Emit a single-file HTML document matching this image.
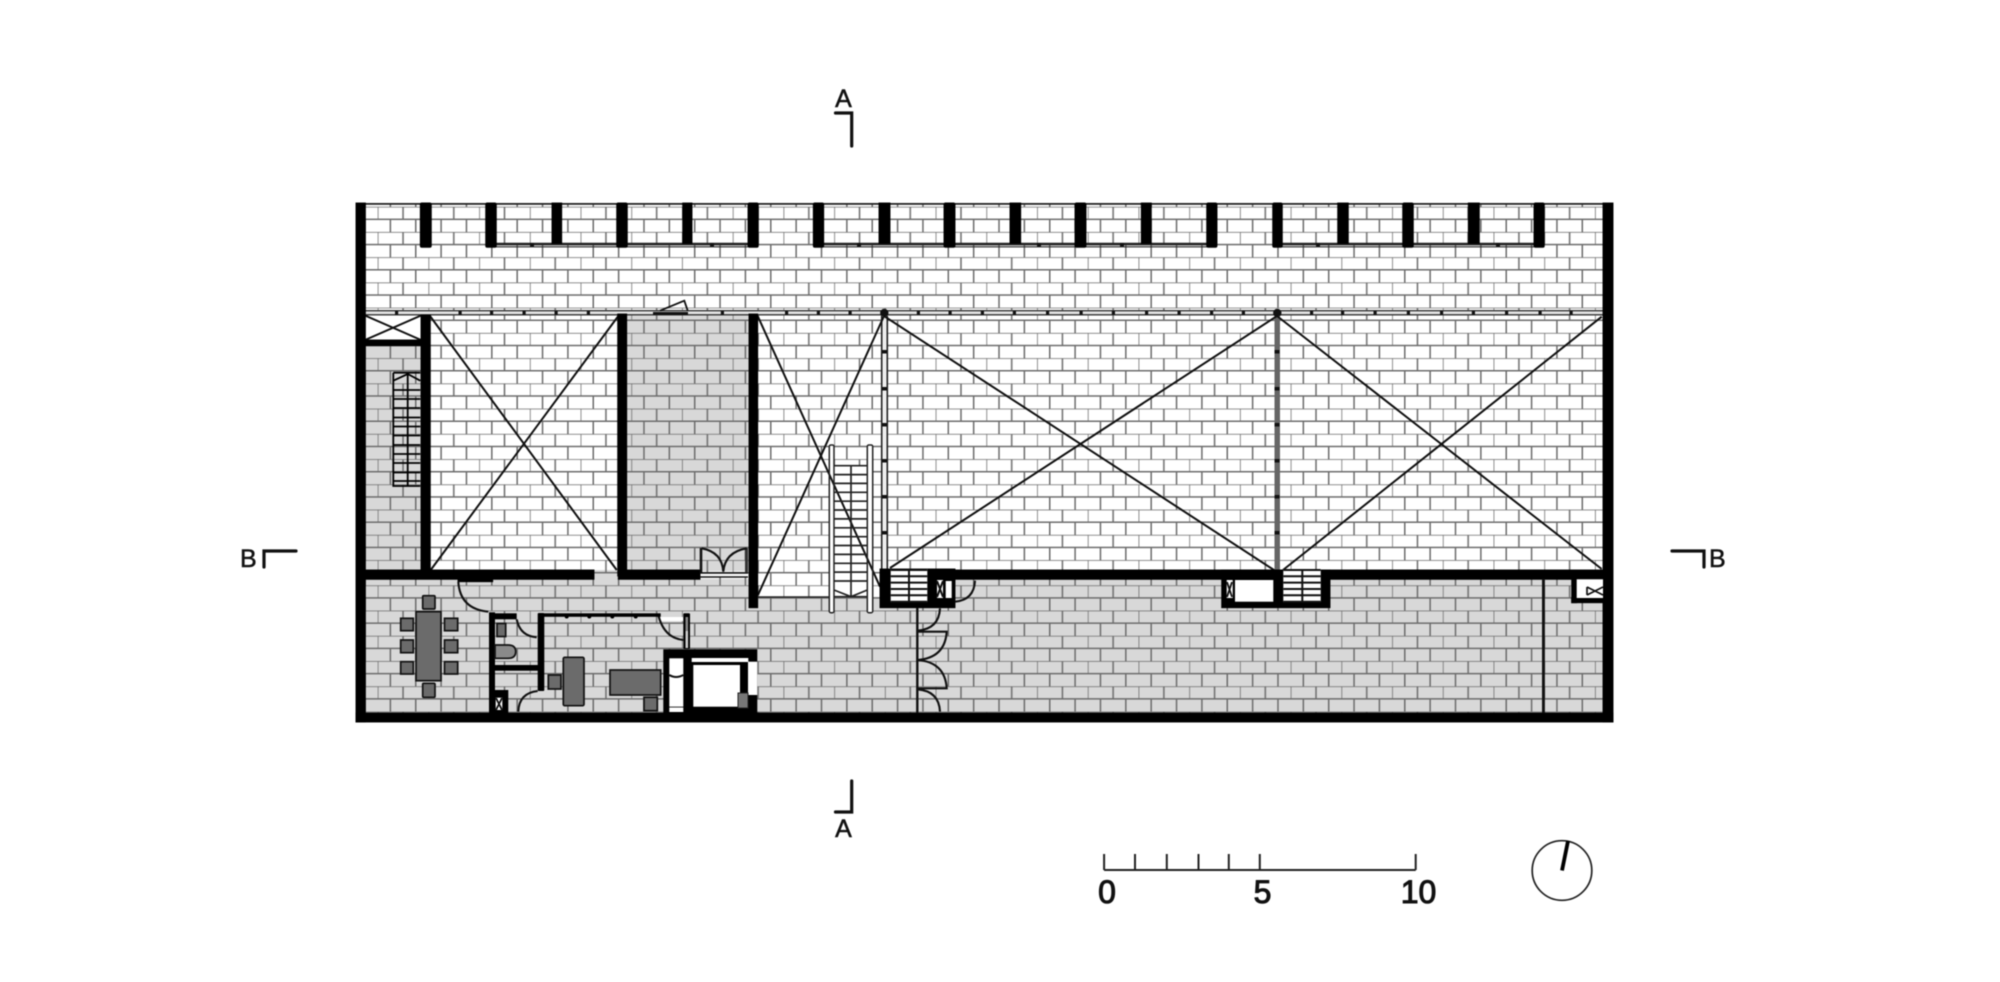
<!DOCTYPE html>
<html><head><meta charset="utf-8"><title>Floor plan</title>
<style>
html,body{margin:0;padding:0;background:#fff;width:2000px;height:982px;overflow:hidden}
svg{display:block;filter:blur(.45px)}
text{font-family:"Liberation Sans",sans-serif;fill:#111}
</style></head><body>
<svg width="2000" height="982" viewBox="0 0 2000 982" xmlns="http://www.w3.org/2000/svg">
<defs>
<pattern id="b" patternUnits="userSpaceOnUse" x="377.7" y="206.7" width="50.72" height="25.24">
<path d="M0 0H50.72M0 12.62H50.72M0 0V12.62M25.36 0V12.62M12.68 12.62V25.24M38.04 12.62V25.24" fill="none" stroke="#6c6c6c" stroke-width="1.5"/>
</pattern>
</defs>
<rect width="2000" height="982" fill="#fff"/>
<!-- grey floors -->
<g fill="#d8d8d8">
<rect x="365" y="346" width="56" height="224"/>
<rect x="627" y="315" width="122" height="256"/>
<rect x="365" y="579" width="1238" height="134"/>
<rect x="594" y="570" width="24" height="9"/>
</g>
<rect x="757.7" y="579" width="122" height="18" fill="#fff"/>
<rect x="365" y="204" width="1238" height="509" fill="url(#b)"/>
<!-- white overlays -->
<g fill="#fff">
<rect x="365" y="315" width="56" height="25"/>
<rect x="660.7" y="617" width="23" height="4"/>
<rect x="834" y="465.7" width="33.3" height="131"/>
<rect x="829.3" y="445" width="4.7" height="167.7"/>
<rect x="867.3" y="445" width="5.4" height="167.7"/>
<rect x="702" y="573" width="46" height="4"/>
</g>
<!-- top edge -->
<rect x="356" y="203" width="1257" height="1.8" fill="#222"/>
<!-- glazing band -->
<rect x="365" y="310.7" width="1238" height="4.1" fill="#e4e4e4"/>
<g fill="none" stroke="#222">
<path d="M496 244H748M823 244H1207M1282 244H1534" stroke-width="2.4"/>
<path d="M496 246.8H748M823 246.8H1207M1282 246.8H1534" stroke-width="1.1"/>
<path d="M365 310.7H1603M365 314.8H1603" stroke-width="1.4" stroke="#333"/>
</g>
<g fill="#111">
<rect x="530" y="243" width="4" height="3.5"/><rect x="710" y="243" width="4" height="3.5"/><rect x="857" y="243" width="4" height="3.5"/><rect x="1037" y="243" width="4" height="3.5"/><rect x="1120" y="243" width="4" height="3.5"/><rect x="1316" y="243" width="4" height="3.5"/><rect x="1496" y="243" width="4" height="3.5"/>
</g>
<g fill="#111">
<rect x="395" y="311" width="3.2" height="3.6"/><rect x="458.5" y="311" width="3.2" height="3.6"/><rect x="490" y="311" width="3.2" height="3.6"/><rect x="522.5" y="311" width="3.2" height="3.6"/><rect x="554.5" y="311" width="3.2" height="3.6"/><rect x="586.8" y="311" width="3.2" height="3.6"/><rect x="720.8" y="311" width="3.2" height="3.6"/><rect x="785" y="311" width="3.2" height="3.6"/><rect x="816.8" y="311" width="3.2" height="3.6"/><rect x="848.5" y="311" width="3.2" height="3.6"/><rect x="916.8" y="311" width="3.2" height="3.6"/><rect x="948.5" y="311" width="3.2" height="3.6"/><rect x="980.8" y="311" width="3.2" height="3.6"/><rect x="1012.8" y="311" width="3.2" height="3.6"/><rect x="1046" y="311" width="3.2" height="3.6"/><rect x="1079.5" y="311" width="3.2" height="3.6"/><rect x="1111.8" y="311" width="3.2" height="3.6"/><rect x="1145" y="311" width="3.2" height="3.6"/><rect x="1177.5" y="311" width="3.2" height="3.6"/><rect x="1210" y="311" width="3.2" height="3.6"/><rect x="1241.8" y="311" width="3.2" height="3.6"/><rect x="1310" y="311" width="3.2" height="3.6"/><rect x="1341" y="311" width="3.2" height="3.6"/><rect x="1373.5" y="311" width="3.2" height="3.6"/><rect x="1406.8" y="311" width="3.2" height="3.6"/><rect x="1440" y="311" width="3.2" height="3.6"/><rect x="1471.8" y="311" width="3.2" height="3.6"/><rect x="1505" y="311" width="3.2" height="3.6"/><rect x="1538.5" y="311" width="3.2" height="3.6"/><rect x="1569.5" y="311" width="3.2" height="3.6"/>
<circle cx="884.3" cy="313" r="4.2"/><circle cx="1277.3" cy="313" r="4.2"/>
<rect x="653" y="312" width="35" height="2.8"/>
</g>
<path d="M660 310.7L684.3 300.7L687.7 310.7" fill="none" stroke="#111" stroke-width="1.8"/>
<!-- columns on glazing -->
<rect x="882" y="316" width="5" height="254" fill="#eee"/>
<path d="M881.7 316V570M887.3 316V570" fill="none" stroke="#222" stroke-width="1.6"/>
<rect x="1274.5" y="316" width="5.5" height="254" fill="#666"/>
<g fill="#111">
<rect x="882" y="350" width="5" height="3.5"/><rect x="882" y="387" width="5" height="3.5"/><rect x="882" y="423" width="5" height="3.5"/><rect x="882" y="459" width="5" height="3.5"/><rect x="882" y="495" width="5" height="3.5"/><rect x="882" y="531" width="5" height="3.5"/>
<rect x="1274.5" y="350" width="5" height="3.5"/><rect x="1274.5" y="387" width="5" height="3.5"/><rect x="1274.5" y="423" width="5" height="3.5"/><rect x="1274.5" y="459" width="5" height="3.5"/><rect x="1274.5" y="495" width="5" height="3.5"/><rect x="1274.5" y="531" width="5" height="3.5"/>
</g>
<!-- diagonals -->
<g fill="none" stroke="#111" stroke-width="2">
<path d="M430 316L616.7 570M618.3 316L430.7 570"/>
<path d="M757.7 316L880 586.7M884 316L758 595"/>
<path d="M884 316L1274 570M890 568L1277 316"/>
<path d="M1277 316L1601.7 569M1283 570L1601.7 316.7"/>
<path d="M365 315.5L421 340M421 315.5L365 340"/>
</g>
<!-- piers -->
<g fill="#000" stroke="#000" stroke-width=".9">
<rect x="420.3" y="203" width="11" height="44.3" rx="1.5"/>
<rect x="485.7" y="203" width="10.6" height="44.3" rx="1.5"/>
<rect x="552" y="203" width="9.7" height="40.5"/>
<rect x="616.7" y="203" width="10.6" height="44.3" rx="1.5"/>
<rect x="682.7" y="203" width="9.3" height="40.5"/>
<rect x="748" y="203" width="10.3" height="44.3" rx="1.5"/>
<rect x="813.3" y="203" width="10.4" height="44.3" rx="1.5"/>
<rect x="879" y="203" width="11" height="40.5"/>
<rect x="944" y="203" width="11" height="44.3" rx="1.5"/>
<rect x="1010" y="203" width="10.7" height="40.5"/>
<rect x="1075" y="203" width="11" height="44.3" rx="1.5"/>
<rect x="1141.3" y="203" width="10" height="40.5"/>
<rect x="1206.7" y="203" width="10.3" height="44.3" rx="1.5"/>
<rect x="1272.7" y="203" width="9.6" height="44.3" rx="1.5"/>
<rect x="1337.7" y="203" width="10.6" height="40.5"/>
<rect x="1402.7" y="203" width="10.6" height="44.3" rx="1.5"/>
<rect x="1468.3" y="203" width="11" height="40.5"/>
<rect x="1534" y="203" width="10.3" height="44.3" rx="1.5"/>
<!-- outer walls -->
<rect x="356" y="203" width="9.4" height="519"/>
<rect x="1603" y="203" width="10" height="519"/>
<rect x="356" y="713" width="1257" height="9"/>
<!-- interior walls -->
<rect x="421" y="315" width="9.3" height="258"/>
<rect x="365" y="340" width="56" height="5.7"/>
<rect x="617.7" y="314" width="9" height="262"/>
<rect x="749" y="314" width="8.7" height="293.7"/>
<rect x="365" y="570" width="229" height="9.3"/>
<rect x="458" y="578" width="34.7" height="3.7"/>
<rect x="618.3" y="570" width="81.7" height="9.3"/>
<rect x="955" y="570" width="648" height="9.3"/>
<!-- blocks -->
<rect x="880" y="569" width="75" height="38.7"/>
<rect x="1221.7" y="570" width="108.3" height="37.7"/>
<rect x="1571.7" y="579" width="5" height="23.7"/>
<rect x="1571.7" y="598" width="31.3" height="4.7"/>
</g>
<!-- block interiors -->
<rect x="890.7" y="569" width="36.6" height="33" fill="#fff"/>
<path d="M890.7 570H927.3M890.7 576.3H927.3M890.7 582.6H927.3M890.7 589H927.3M890.7 595.3H927.3M890.7 601.7H927.3M909 569V602" fill="none" stroke="#111" stroke-width="2"/>
<rect x="937" y="580" width="6" height="18" fill="#fff"/>
<rect x="945.7" y="581" width="6" height="17" fill="#fff"/>
<path d="M937 581L943 597M943 581L937 597" stroke="#111" stroke-width="2" fill="none"/>
<rect x="1283.3" y="569" width="37.4" height="33" fill="#fff"/>
<path d="M1283.3 570H1320.7M1283.3 576.3H1320.7M1283.3 582.6H1320.7M1283.3 589H1320.7M1283.3 595.3H1320.7M1283.3 601.7H1320.7M1302.3 569V602" fill="none" stroke="#111" stroke-width="2"/>
<rect x="1235" y="580" width="38.3" height="21.7" fill="#fff"/>
<rect x="1226.7" y="580" width="6" height="18" fill="#fff"/>
<path d="M1227 582L1232 597M1232 582L1227 597" stroke="#111" stroke-width="1.8" fill="none"/>
<rect x="1576.7" y="579.3" width="26.3" height="18.7" fill="#fff"/>
<path d="M1587 587L1603 595M1587 595L1603 587M1587 587V595" stroke="#111" stroke-width="1.7" fill="none"/>
<rect x="1542" y="579" width="2.9" height="134" fill="#111"/>
<!-- left stair -->
<g fill="none" stroke="#000">
<path d="M393.3 372.7H420.3M393.3 372.7V486H420.3M407.7 372.7V486" stroke-width="1.8"/>
<path d="M393.3 380.7L407.7 374L420.3 380.7M393.3 390H420.3M393.3 399H420.3M393.3 408H420.3M393.3 417.5H420.3M393.3 426.5H420.3M393.3 435.5H420.3M393.3 445H420.3M393.3 454H420.3M393.3 463H420.3M393.3 472.5H420.3M393.3 481H420.3" stroke-width="1.8"/>
</g>
<!-- central stair -->
<g fill="none" stroke="#222">
<rect x="829.3" y="445" width="4.7" height="167.7" rx="1.5" stroke-width="1.5"/>
<rect x="867.3" y="445" width="5.4" height="167.7" rx="1.5" stroke-width="1.5"/>
<path d="M851 465.7V596.7M834 465.7H867.3M834 474.6H867.3M834 483.4H867.3M834 492.3H867.3M834 501.2H867.3M834 510H867.3M834 518.9H867.3M834 527.8H867.3M834 536.7H867.3M834 545.5H867.3M834 554.4H867.3M834 563.3H867.3M834 572.1H867.3M834 581H867.3M834 590L851 596.7L867.3 590M834 596.7H867.3" stroke-width="1.7"/>
<path d="M757.7 597H829" stroke-width="1.6"/>
</g>
<!-- doors -->
<g fill="none" stroke="#111" stroke-width="2.1">
<path d="M701 548V573" stroke-width="2.6"/>
<path d="M746.5 548V572" stroke-width="3" stroke="#333"/>
<path d="M701.7 548.3Q722 552 723.3 571.7M746.7 548.3Q725 552 723.3 571.7"/>
<path d="M700 573H748M700 577H748" stroke-width="1.4"/>
<path d="M955 601.7Q974 600 975 580.7"/>
<path d="M917.3 607.7V712.7" stroke-width="2.4"/>
<path d="M940 608.3Q939 629 917.3 630.7M917.3 631.7H946.7Q945 658 917.3 660Q945 662 946.7 688.3H917.3M917.3 689.3Q939 691 940 711.7"/>
<path d="M458.3 581.7Q460 609 488.3 611.7"/>
<path d="M516.7 619.3Q520 636 536.7 637.3"/>
<path d="M518.3 711.7Q519 693 537.7 691"/>
<path d="M658.3 615Q664 638 683.3 640"/>
</g>
<!-- office walls -->
<g fill="#000">
<rect x="489" y="612.3" width="6" height="101"/>
<rect x="495" y="613.3" width="21.7" height="6"/>
<rect x="537.7" y="613" width="6.6" height="78" rx="1"/>
<rect x="495" y="665" width="43" height="5.7"/>
<rect x="495" y="690" width="13.3" height="23"/>
<rect x="544" y="613.3" width="116.7" height="3.5"/>
<circle cx="566.7" cy="616.5" r="2"/><circle cx="589.3" cy="616.5" r="2"/><circle cx="612.3" cy="616.5" r="2"/><circle cx="635.7" cy="616.5" r="2"/>
<rect x="683.3" y="613.3" width="6.7" height="35.7" rx="1"/>
<rect x="663.3" y="649.3" width="94" height="63.7"/>
</g>
<rect x="495.7" y="697.7" width="6.6" height="12.3" fill="#fff"/>
<path d="M496 698L502 710M502 698L496 710" stroke="#111" stroke-width="1.8" fill="none"/>
<rect x="685.5" y="617" width="2.6" height="14" fill="#888"/>
<rect x="685.5" y="631" width="2.6" height="17" fill="#ccc"/>
<!-- elevator -->
<g fill="#fff">
<rect x="669.3" y="658.3" width="14" height="48.4"/>
<rect x="669.3" y="707.5" width="14" height="4.5"/>
<rect x="693.3" y="665" width="46.7" height="41.7"/>
<rect x="691.7" y="658" width="56.6" height="4"/>
<rect x="748" y="661.7" width="9.3" height="33.3"/>
</g>
<path d="M669.3 675Q676 679 683.3 675" fill="none" stroke="#111" stroke-width="2"/>
<rect x="738" y="693" width="10" height="15" fill="#777" stroke="#222" stroke-width="1"/>
<!-- furniture -->
<g fill="#6b6b6b" stroke="#111" stroke-width="1.7">
<rect x="416" y="611.7" width="25" height="69"/>
<rect x="422.7" y="595.7" width="12.3" height="13.3" rx="1"/>
<rect x="422.7" y="683.3" width="12.3" height="14" rx="1"/>
<rect x="400.7" y="618.3" width="12.6" height="12.4"/>
<rect x="400.7" y="640" width="12.6" height="12.7"/>
<rect x="400.7" y="661.7" width="12.6" height="12.3"/>
<rect x="444.5" y="618.3" width="13.2" height="12.4"/>
<rect x="444.5" y="640" width="13.2" height="12.7"/>
<rect x="444.5" y="661.7" width="13.2" height="12.3"/>
<rect x="563.3" y="657.3" width="20.7" height="48.4" rx="1.5"/>
<rect x="548.3" y="675" width="12.7" height="14"/>
<rect x="610" y="670" width="50.7" height="25"/>
<rect x="644" y="697.3" width="13.3" height="13.4"/>
<rect x="497" y="623.5" width="8.7" height="13"/>
<path d="M495 645H508Q515.7 645 515.7 651.6Q515.7 658.3 508 658.3H495Z" fill="#8a8a8a"/>
</g>
<!-- section marks -->
<g fill="none" stroke="#111" stroke-width="3.2" stroke-linecap="round">
<path d="M835.5 113H851.7V146"/>
<path d="M851.7 781V812H835.5"/>
<path d="M296 551H264V567"/>
<path d="M1672 551H1704V567"/>
</g>
<g font-size="25" stroke="#111" stroke-width=".5">
<text x="843.5" y="107" text-anchor="middle">A</text>
<text x="843.5" y="837" text-anchor="middle">A</text>
<text x="240" y="567">B</text>
<text x="1709" y="567">B</text>
</g>
<!-- scale -->
<path d="M1104.1 870H1415.7M1104.1 854V870M1135 854V870M1166.8 854V870M1198.5 854V870M1228.8 854V870M1259.8 854V870M1415.7 854V870" fill="none" stroke="#222" stroke-width="2"/>
<g font-size="32" text-anchor="middle" stroke="#111" stroke-width="1">
<text x="1107" y="903">0</text>
<text x="1262.5" y="903">5</text>
<text x="1418.5" y="903">10</text>
</g>
<!-- north -->
<circle cx="1562" cy="870.5" r="29.8" fill="none" stroke="#222" stroke-width="1.7"/>
<path d="M1562 870.5L1568 841" stroke="#000" stroke-width="3.8" fill="none"/>
</svg>
</body></html>
